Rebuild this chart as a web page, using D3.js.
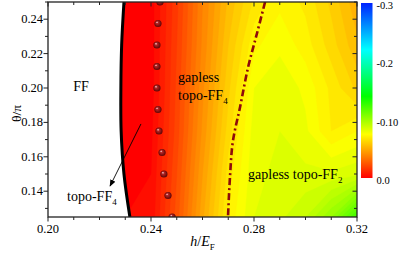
<!DOCTYPE html>
<html>
<head>
<meta charset="utf-8">
<script src="https://cdn.jsdelivr.net/npm/d3@7"></script>
<style>
  body { margin: 0; background: #fff; }
</style>
</head>
<body>
<svg id="chart" width="399" height="253"></svg>
<script>
// gap map sampled by eye from the figure (h/E_F columns, theta/pi rows)
const hCols = [0.22, 0.23, 0.24, 0.25, 0.26, 0.27, 0.28, 0.29, 0.30, 0.31, 0.32];
const thetaRows = [0.25, 0.225, 0.20, 0.175, 0.15, 0.125];
const gapRows = [
    [0, 0, 0.002, -0.015, -0.036, -0.053, -0.065, -0.071, -0.067, -0.059, -0.049],
    [0, 0, 0.002, -0.016, -0.037, -0.056, -0.071, -0.075, -0.070, -0.062, -0.053],
    [0, 0, 0.002, -0.017, -0.039, -0.059, -0.076, -0.079, -0.075, -0.067, -0.059],
    [0, 0, 0.001, -0.018, -0.041, -0.062, -0.078, -0.080, -0.077, -0.068, -0.072],
    [0, 0, 0.000, -0.020, -0.044, -0.066, -0.079, -0.081, -0.081, -0.081, -0.083],
    [0, 0, -0.001, -0.022, -0.047, -0.069, -0.080, -0.083, -0.088, -0.100, -0.122]
];

// FF / topo-FF4 boundary (solid black)
const boundaryH = [0.2295, 0.2286, 0.2283, 0.2284, 0.2295, 0.2318];
const boundaryTheta = [0.25, 0.225, 0.20, 0.175, 0.15, 0.125];

// gapless topo-FF4 / topo-FF2 boundary (dash-dot)
const dashH = [0.2843, 0.2812, 0.2777, 0.2746, 0.2718, 0.2707, 0.2699];
const dashTheta = [0.25, 0.232, 0.212, 0.189, 0.169, 0.149, 0.125];

// sphere markers
const dotH = [0.2435, 0.2427, 0.2423, 0.2423, 0.2423, 0.2427, 0.2431, 0.2443, 0.2450, 0.2466, 0.2482];
const dotTheta = [0.25, 0.2375, 0.225, 0.2125, 0.20, 0.1875, 0.175, 0.1625, 0.15, 0.1375, 0.125];

const xMajor = [0.20, 0.24, 0.28, 0.32];
const xMinor = [0.21, 0.22, 0.23, 0.25, 0.26, 0.27, 0.29, 0.30, 0.31];
const yMajor = [0.14, 0.16, 0.18, 0.20, 0.22, 0.24];
const yMinor = [0.13, 0.15, 0.17, 0.19, 0.21, 0.23, 0.25];
const barTickValues = [-0.3, -0.2, -0.1, 0.0];
const barTickLabels = ["-0.3", "-0.2", "-0.10", "0.0"];

const colorStops = [0, -0.037, -0.075, -0.14, -0.22, -0.3];
const colorRange = ["#ff0000", "#ff8000", "#ffff00", "#00ff00", "#00ffff", "#0022ff"];

const FONT = "Liberation Serif";

const svg = d3.select("#chart");
const margin = {top: 2, right: 42, bottom: 36, left: 48};
const width = 357 - margin.left;
const height = 217 - margin.top;

const x = d3.scaleLinear().domain([0.20, 0.32]).range([margin.left, margin.left + width]);
const y = d3.scaleLinear().domain([0.125, 0.25]).range([margin.top + height, margin.top]);
const color = d3.scaleLinear().domain(colorStops).range(colorRange).clamp(true);

const defs = svg.append("defs");
defs.append("clipPath").attr("id", "plot-clip")
    .append("rect")
    .attr("x", margin.left).attr("y", margin.top)
    .attr("width", width).attr("height", height);

const ball = defs.append("radialGradient").attr("id", "ball")
    .attr("cx", "50%").attr("cy", "50%").attr("r", "55%")
    .attr("fx", "35%").attr("fy", "30%");
ball.append("stop").attr("offset", "0%").attr("stop-color", "#ffffff");
ball.append("stop").attr("offset", "28%").attr("stop-color", "#b82828");
ball.append("stop").attr("offset", "100%").attr("stop-color", "#520000");

defs.append("marker").attr("id", "arrow")
    .attr("viewBox", "0 0 10 10").attr("refX", 9).attr("refY", 5)
    .attr("markerWidth", 7).attr("markerHeight", 7)
    .attr("markerUnits", "userSpaceOnUse")
    .attr("orient", "auto")
    .append("path").attr("d", "M0,1 L10,5 L0,9 Z").attr("fill", "#000");

// contour fill
const plot = svg.append("g").attr("clip-path", "url(#plot-clip)");
const nCols = hCols.length, nRows = thetaRows.length;
const dh = hCols[1] - hCols[0];
const dt = thetaRows[0] - thetaRows[1];
const thresholds = d3.range(76).map(i => -0.3 + i * 0.004);
const contours = d3.contours().size([nCols, nRows]).thresholds(thresholds)(gapRows.flat());
const proj = d3.geoTransform({
    point(px, py) {
        this.stream.point(x(hCols[0] + (px - 0.5) * dh), y(thetaRows[0] - (py - 0.5) * dt));
    }
});
plot.selectAll("path.band")
    .data(contours)
    .enter().append("path")
        .attr("class", "band")
        .attr("d", d3.geoPath(proj))
        .attr("fill", d => color(d.value))
        .attr("stroke", d => color(d.value))
        .attr("stroke-width", 0.4);

const boundary = boundaryH.map((h, i) => [h, boundaryTheta[i]]);

// FF region is blank
plot.append("path")
    .datum(boundary)
    .attr("d", d3.area().curve(d3.curveCatmullRom)
        .y(d => y(d[1])).x0(x(0.19)).x1(d => x(d[0])))
    .attr("fill", "#fff");

plot.append("path")
    .datum(boundary)
    .attr("d", d3.line().curve(d3.curveCatmullRom).x(d => x(d[0])).y(d => y(d[1])))
    .attr("fill", "none").attr("stroke", "#000").attr("stroke-width", 3);

plot.append("path")
    .datum(dashH.map((h, i) => [h, dashTheta[i]]))
    .attr("d", d3.line().curve(d3.curveCatmullRom).x(d => x(d[0])).y(d => y(d[1])))
    .attr("fill", "none").attr("stroke", "#8f0a0a").attr("stroke-width", 2.6)
    .attr("stroke-dasharray", "7,3,2,3");

plot.selectAll("circle.dot")
    .data(dotH.map((h, i) => [h, dotTheta[i]]))
    .enter().append("circle")
        .attr("class", "dot")
        .attr("cx", d => x(d[0])).attr("cy", d => y(d[1]))
        .attr("r", 3.6)
        .attr("fill", "url(#ball)");

// frame and ticks
const axisColor = "#222";
const x0 = margin.left, x1 = margin.left + width, y0 = margin.top, y1 = margin.top + height;
svg.append("rect").attr("x", x0).attr("y", y0).attr("width", width).attr("height", height)
    .attr("fill", "none").attr("stroke", axisColor).attr("stroke-width", 1.3);

const tickG = svg.append("g").attr("stroke", axisColor).attr("stroke-width", 1);
xMajor.concat(xMinor).forEach(v => {
    const len = xMajor.includes(v) ? 4.5 : 3;
    tickG.append("line").attr("x1", x(v)).attr("x2", x(v)).attr("y1", y1).attr("y2", y1 + len);
    tickG.append("line").attr("x1", x(v)).attr("x2", x(v)).attr("y1", y0).attr("y2", y0 + len);
});
yMajor.concat(yMinor).forEach(v => {
    const len = yMajor.includes(v) ? 4.5 : 3;
    tickG.append("line").attr("y1", y(v)).attr("y2", y(v)).attr("x1", x0).attr("x2", x0 - len);
    tickG.append("line").attr("y1", y(v)).attr("y2", y(v)).attr("x1", x1).attr("x2", x1 - len);
});

svg.append("g").selectAll("text")
    .data(xMajor)
    .enter().append("text")
        .attr("font-family", FONT)
        .attr("x", d => x(d)).attr("y", y1 + 16)
        .attr("text-anchor", "middle").attr("font-size", 12.5)
        .text(d => d3.format(".2f")(d));

svg.append("g").selectAll("text")
    .data(yMajor)
    .enter().append("text")
        .attr("font-family", FONT)
        .attr("x", x0 - 5).attr("y", d => y(d) + 4)
        .attr("text-anchor", "end").attr("font-size", 12.5)
        .text(d => d3.format(".2f")(d));

// axis titles
svg.append("text")
    .attr("font-family", FONT)
    .attr("transform", `translate(21,${(y0 + y1) / 2 + 4}) rotate(-90)`)
    .attr("text-anchor", "middle").attr("font-size", 13.5)
    .text("θ/π");

const xt = svg.append("text")
    .attr("font-family", FONT)
    .attr("x", (x0 + x1) / 2).attr("y", 246)
    .attr("text-anchor", "middle").attr("font-size", 14);
xt.append("tspan").attr("font-style", "italic").text("h");
xt.append("tspan").text("/");
xt.append("tspan").attr("font-style", "italic").text("E");
xt.append("tspan").attr("font-size", 9).attr("dy", 4).text("F");

// region labels
const labelText = ["FF", "gapless", "topo-FF|4", "topo-FF|4", "gapless topo-FF|2"];
const labelH = [0.2128, 0.2505, 0.2505, 0.2074, 0.2777];
const labelTheta = [0.1983, 0.2035, 0.193, 0.1343, 0.1471];
const labelAnchor = ["middle", "start", "start", "start", "start"];

labelText.forEach((t, i) => {
    const [main, sub] = t.split("|");
    const el = svg.append("text")
        .attr("font-family", FONT)
        .attr("x", x(labelH[i])).attr("y", y(labelTheta[i]))
        .attr("text-anchor", labelAnchor[i]).attr("font-size", 14);
    el.append("tspan").text(main);
    if (sub) el.append("tspan").attr("font-size", 9).attr("dy", 4).text(sub);
});

// annotation arrow
const arrowH = [0.2361, 0.2241];
const arrowTheta = [0.1791, 0.143];
svg.append("line")
    .attr("x1", x(arrowH[0])).attr("y1", y(arrowTheta[0]))
    .attr("x2", x(arrowH[1])).attr("y2", y(arrowTheta[1]))
    .attr("stroke", "#000").attr("stroke-width", 0.9)
    .attr("marker-end", "url(#arrow)");

// colour bar
const bar = d3.scaleLinear().domain([0, -0.3]).range([178, 3]);
const grad = defs.append("linearGradient").attr("id", "bar-grad")
    .attr("x1", 0).attr("y1", 1).attr("x2", 0).attr("y2", 0);
colorStops.forEach(v => {
    grad.append("stop").attr("offset", v / -0.3).attr("stop-color", color(v));
});
svg.append("rect")
    .attr("x", 361).attr("y", bar(-0.3))
    .attr("width", 11.5).attr("height", bar(0) - bar(-0.3))
    .attr("fill", "url(#bar-grad)");

svg.append("g").selectAll("text")
    .data(barTickValues)
    .enter().append("text")
        .attr("font-family", FONT)
        .attr("x", 376.5).attr("y", d => bar(d) + 6)
        .attr("font-size", 10.5)
        .text((d, i) => barTickLabels[i]);
</script>
</body>
</html>
